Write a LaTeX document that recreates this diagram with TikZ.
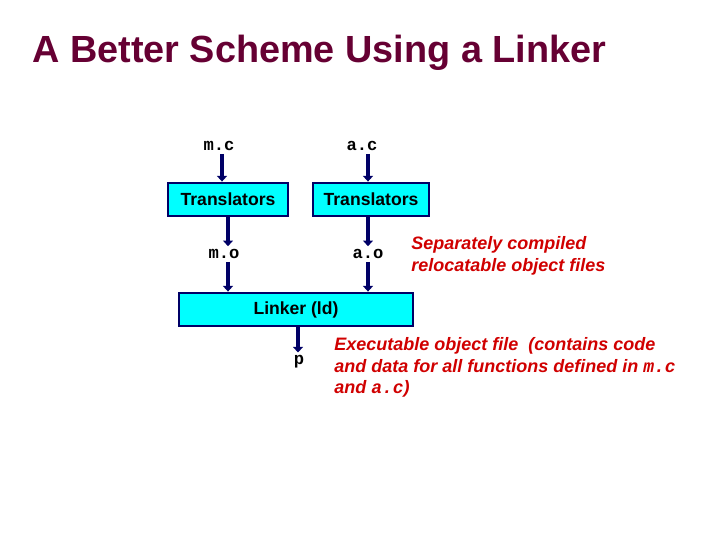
\documentclass[tikz,border=0pt]{standalone}
\usepackage{fontspec}
\setmainfont{Liberation Sans}
\setmonofont{Liberation Mono}
\usetikzlibrary{arrows.meta}
\definecolor{titlered}{HTML}{660033}
\definecolor{boxcyan}{HTML}{00FFFF}
\definecolor{navy}{HTML}{000066}
\definecolor{notered}{HTML}{D00000}
\tikzset{
    stagebox/.style={
        rectangle,
        draw=navy,
        line width=2pt,
        fill=boxcyan,
        minimum height=0.825cm,
        font=\fontsize{12.5}{15}\selectfont\bfseries,
        align=center
    },
    filename/.style={
        font=\fontsize{12.2}{14}\selectfont\ttfamily\bfseries,
        inner sep=2pt
    },
    note/.style={
        text=notered,
        font=\fontsize{12.8}{15.5}\selectfont\bfseries\itshape,
        align=left,
        inner sep=0pt
    },
    flow/.style={
        draw=navy,
        line width=2.6pt,
        -{Triangle[width=7pt,length=4pt]}
    }
}
\newcommand{\fn}[1]{{\ttfamily\bfseries #1}}

\begin{document}
\begin{tikzpicture}[x=0.025cm, y=-0.025cm]
    \useasboundingbox (0,0) rectangle (720,540);

    \node[anchor=base west, inner sep=0pt, text=titlered,
          font=\fontsize{26.9}{30}\selectfont\bfseries] (title) at (32,62)
          {A Better Scheme Using a Linker};

    \node[filename] (mc) at (219,146) {m.c};
    \node[filename] (ac) at (362,146) {a.c};

    \node[stagebox, minimum width=3cm] (transm) at (228,199.5) {Translators};
    \node[stagebox, minimum width=2.9cm] (transa) at (371,199.5) {Translators};

    \node[filename] (mo) at (224,254) {m.o};
    \node[filename] (ao) at (368,254) {a.o};

    \node[stagebox, minimum width=5.85cm] (linker) at (296,309.5) {Linker (ld)};

    \node[filename] (p) at (299,362) {p};

    \node[note, anchor=north west] (sepnote) at (411,236)
        {Separately compiled\\relocatable object files};
    \node[note, anchor=north west] (exenote) at (334,337)
        {Executable object file\ \ (contains code\\and data for all functions defined in \fn{m.c}\\and \fn{a.c})};

    \draw[flow] (mc.south -| 222,0) -- (222,0 |- transm.north);
    \draw[flow] (transm.south) -- (transm.south |- mo.north);
    \draw[flow] (transm.south |- mo.south) -- (transm.south |- linker.north);

    \draw[flow] (ac.south -| ao) -- (ao |- transa.north);
    \draw[flow] (ao |- transa.south) -- (ao.north);
    \draw[flow] (ao.south) -- (ao |- linker.north);

    \draw[flow] (linker.south -| 298,0) -- (298,0 |- p.north);

\end{tikzpicture}
\end{document}
